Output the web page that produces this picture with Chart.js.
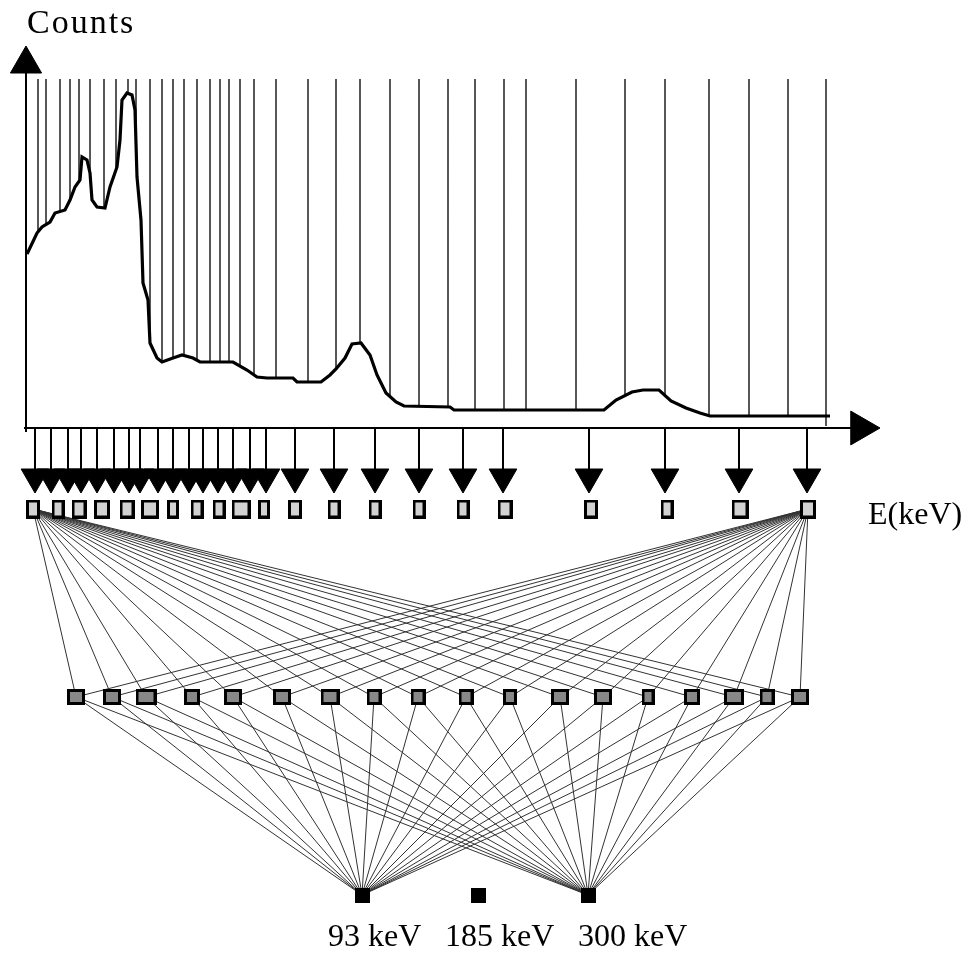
<!DOCTYPE html>
<html>
<head>
<meta charset="utf-8">
<script src="https://cdn.jsdelivr.net/npm/chart.js@4.4.1/dist/chart.umd.min.js"></script>
<style>
  html, body { margin: 0; padding: 0; background: #fff; }
  #wrap { width: 974px; height: 954px; }
</style>
</head>
<body>
<div id="wrap"><canvas id="netChart" width="974" height="954"></canvas></div>
<script>
// ---- data ----
// spectrum (channel, counts)
var spectrumChannels = [1, 2, 11, 16, 24, 29, 39, 44, 49, 54, 56, 61, 64, 66, 71, 79, 84, 91, 94, 96, 101, 106, 109, 111, 115, 117, 122, 124, 131, 136, 147, 156, 167, 174, 207, 221, 231, 241, 267, 271, 295, 304, 310, 319, 326, 335, 344, 351, 360, 370, 378, 424, 428, 578, 590, 606, 617, 633, 645, 660, 674, 684, 804];
var spectrumCounts = [1740, 1760, 1950, 2010, 2060, 2150, 2180, 2280, 2410, 2480, 2710, 2680, 2550, 2280, 2210, 2200, 2410, 2610, 2880, 3280, 3350, 3330, 3180, 2510, 2080, 1450, 1280, 850, 700, 660, 700, 730, 700, 660, 660, 580, 510, 500, 500, 460, 460, 530, 590, 700, 840, 850, 730, 530, 350, 260, 220, 210, 180, 180, 280, 360, 380, 380, 270, 200, 150, 120, 120];

// energy window edges (vertical lines over the spectrum)
var binEdges = [12, 20, 34, 44, 53, 64, 78, 90, 102, 110, 124, 136, 147, 158, 171, 184, 194, 203, 214, 228, 250, 282, 310, 334, 364, 393, 422, 449, 478, 500, 550, 599, 639, 683, 723, 762, 800];
var edgeTopCounts = 3490;

// arrows feeding the input layer (channel)
var arrowChannels = [9, 25, 42, 55, 71, 88, 103, 114, 132, 147, 163, 177, 192, 207, 224, 240, 269, 308, 349, 393, 437, 477, 563, 639, 713, 781];

// network layers (channel position of each node)
var inputNodes = [7, 32, 53, 76, 101, 124, 147, 171, 193, 215, 238, 269, 308, 349, 393, 437, 479, 565, 641, 714, 782];
var hiddenNodes = [50, 86, 120, 166, 207, 256, 304, 348, 392, 440, 484, 534, 577, 622, 666, 708, 741, 774];
var outputNodes = [336, 452, 562];
var outputLabels = ['93 keV', '185 keV', '300 keV'];
var wiredInputs = [0, 20];
var wiredOutputs = [0, 2];

// ---- layout / style ----
var rows = { axis: 428, arrow: 477, input: 509, hidden: 697, output: 895, labels: 946, eLabel: 524 };
var labelChannels = [302, 419, 552];
var inputW = [14, 13, 15, 16, 15, 18, 12, 13, 13, 19, 12, 14, 13, 13, 13, 13, 15, 14, 13, 17, 16];
var hiddenW = [18, 18, 21, 16, 18, 18, 19, 15, 15, 15, 14, 18, 18, 13, 16, 20, 15, 18];

function makeBox(w, h, fill, edge) {
    var c = document.createElement('canvas');
    c.width = w; c.height = h;
    var g = c.getContext('2d');
    g.fillStyle = '#000';
    g.fillRect(0, 0, w, h);
    if (fill) {
        g.fillStyle = fill;
        g.fillRect(edge, edge, w - 2 * edge, h - 2 * edge);
    }
    return c;
}
var inputBoxes = inputW.map(function (w) { return makeBox(w, 19, '#d2d2d2', 3); });
var hiddenBoxes = hiddenW.map(function (w) { return makeBox(w, 16, '#888888', 3); });
var outputBox = makeBox(15, 15, null, 0);

// interpolate the spectrum at a channel
function curveAt(ch) {
    for (var i = 1; i < spectrumChannels.length; i++) {
        if (ch <= spectrumChannels[i]) {
            var x0 = spectrumChannels[i - 1], x1 = spectrumChannels[i];
            var t = (ch - x0) / (x1 - x0);
            return spectrumCounts[i - 1] + t * (spectrumCounts[i] - spectrumCounts[i - 1]);
        }
    }
    return spectrumCounts[spectrumCounts.length - 1];
}

// list of [a, b] pairs -> points with gaps
function segments(pairs) {
    var out = [];
    pairs.forEach(function (p) {
        out.push(p[0], p[1], { x: p[1].x, y: null });
    });
    return out;
}

var spectrumData = spectrumChannels.map(function (c, i) { return { x: c, y: spectrumCounts[i] }; });

var edgeData = segments(binEdges.map(function (c, i) {
    var bottom = i === binEdges.length - 1 ? 20 : curveAt(c);
    return [{ x: c, y: edgeTopCounts }, { x: c, y: bottom }];
}));

var stemData = segments(arrowChannels.map(function (c) {
    return [{ x: c, y: rows.axis }, { x: c, y: rows.arrow - 4 }];
}));

var fanInData = [];
wiredInputs.forEach(function (k) {
    hiddenNodes.forEach(function (h) {
        fanInData.push([{ x: inputNodes[k], y: rows.input }, { x: h, y: rows.hidden }]);
    });
});
fanInData = segments(fanInData);

var fanOutData = [];
hiddenNodes.forEach(function (h) {
    wiredOutputs.forEach(function (k) {
        fanOutData.push([{ x: h, y: rows.hidden }, { x: outputNodes[k], y: rows.output }]);
    });
});
fanOutData = segments(fanOutData);

var textPlugin = {
    id: 'diagramText',
    beforeDraw: function (chart) {
        var c = chart.ctx;
        c.save();
        c.fillStyle = '#fff';
        c.fillRect(0, 0, chart.width, chart.height);
        c.restore();
    },
    afterDraw: function (chart) {
        var c = chart.ctx, sx = chart.scales.x, sy = chart.scales.y, sd = chart.scales.depth;
        c.save();
        c.fillStyle = '#000';
        c.textBaseline = 'alphabetic';
        c.font = '34px "Liberation Serif", "Times New Roman", serif';
        c.letterSpacing = '2px';
        c.fillText('Counts', sx.getPixelForValue(1), sy.getPixelForValue(3950));
        c.letterSpacing = '0px';
        c.font = '32px "Liberation Serif", "Times New Roman", serif';
        c.fillText('E(keV)', sx.getPixelForValue(842), sd.getPixelForValue(rows.eLabel));
        outputLabels.forEach(function (t, i) {
            c.fillText(t, sx.getPixelForValue(labelChannels[i]), sd.getPixelForValue(rows.labels));
        });
        c.restore();
    }
};

var ctx = document.getElementById('netChart').getContext('2d');
var netChart = new Chart(ctx, {
    type: 'scatter',
    data: {
        datasets: [
            // nodes on top
            { data: outputNodes.map(function (c) { return { x: c, y: rows.output }; }), yAxisID: 'depth',
              pointStyle: outputBox, pointRadius: 10, order: 0 },
            { data: hiddenNodes.map(function (c) { return { x: c, y: rows.hidden }; }), yAxisID: 'depth',
              pointStyle: function (c) { return hiddenBoxes[c.dataIndex]; }, pointRadius: 10, order: 0 },
            { data: inputNodes.map(function (c) { return { x: c, y: rows.input }; }), yAxisID: 'depth',
              pointStyle: function (c) { return inputBoxes[c.dataIndex]; }, pointRadius: 10, order: 0 },
            // arrow heads
            { data: arrowChannels.map(function (c) { return { x: c, y: rows.arrow }; }), yAxisID: 'depth',
              pointStyle: 'triangle', rotation: 180, pointRadius: 16, backgroundColor: '#000', borderColor: '#000', borderWidth: 1, order: 1 },
            { data: [{ x: 0, y: 3640 }], yAxisID: 'y',
              pointStyle: 'triangle', rotation: 0, pointRadius: 18, backgroundColor: '#000', borderColor: '#000', borderWidth: 1, order: 1 },
            { data: [{ x: 834.5, y: 0 }], yAxisID: 'y',
              pointStyle: 'triangle', rotation: 90, pointRadius: 19.5, backgroundColor: '#000', borderColor: '#000', borderWidth: 1, order: 1 },
            // spectrum
            { data: spectrumData, yAxisID: 'y', showLine: true, pointRadius: 0, borderColor: '#000', borderWidth: 3.2, order: 2 },
            // axes
            { data: [{ x: 0, y: -40 }, { x: 0, y: 3560 }], yAxisID: 'y', showLine: true, pointRadius: 0, borderColor: '#000', borderWidth: 2, order: 3 },
            { data: [{ x: -2, y: 0 }, { x: 826, y: 0 }], yAxisID: 'y', showLine: true, pointRadius: 0, borderColor: '#000', borderWidth: 2, order: 3 },
            // window edges and arrow stems
            { data: edgeData, yAxisID: 'y', showLine: true, pointRadius: 0, borderColor: '#111', borderWidth: 1.4, order: 4 },
            { data: stemData, yAxisID: 'depth', showLine: true, pointRadius: 0, borderColor: '#000', borderWidth: 2, order: 4 },
            // connections
            { data: fanInData, yAxisID: 'depth', showLine: true, pointRadius: 0, borderColor: '#333', borderWidth: 1, order: 5 },
            { data: fanOutData, yAxisID: 'depth', showLine: true, pointRadius: 0, borderColor: '#333', borderWidth: 1, order: 5 }
        ]
    },
    options: {
        responsive: false,
        animation: false,
        layout: { padding: 0, autoPadding: false },
        plugins: { legend: { display: false }, tooltip: { enabled: false } },
        scales: {
            x: { type: 'linear', min: -26, max: 948, display: false },
            y: { type: 'linear', min: -5260, max: 4280, display: false },
            depth: { type: 'linear', min: 0, max: 954, reverse: true, display: false }
        }
    },
    plugins: [textPlugin]
});
</script>
</body>
</html>
